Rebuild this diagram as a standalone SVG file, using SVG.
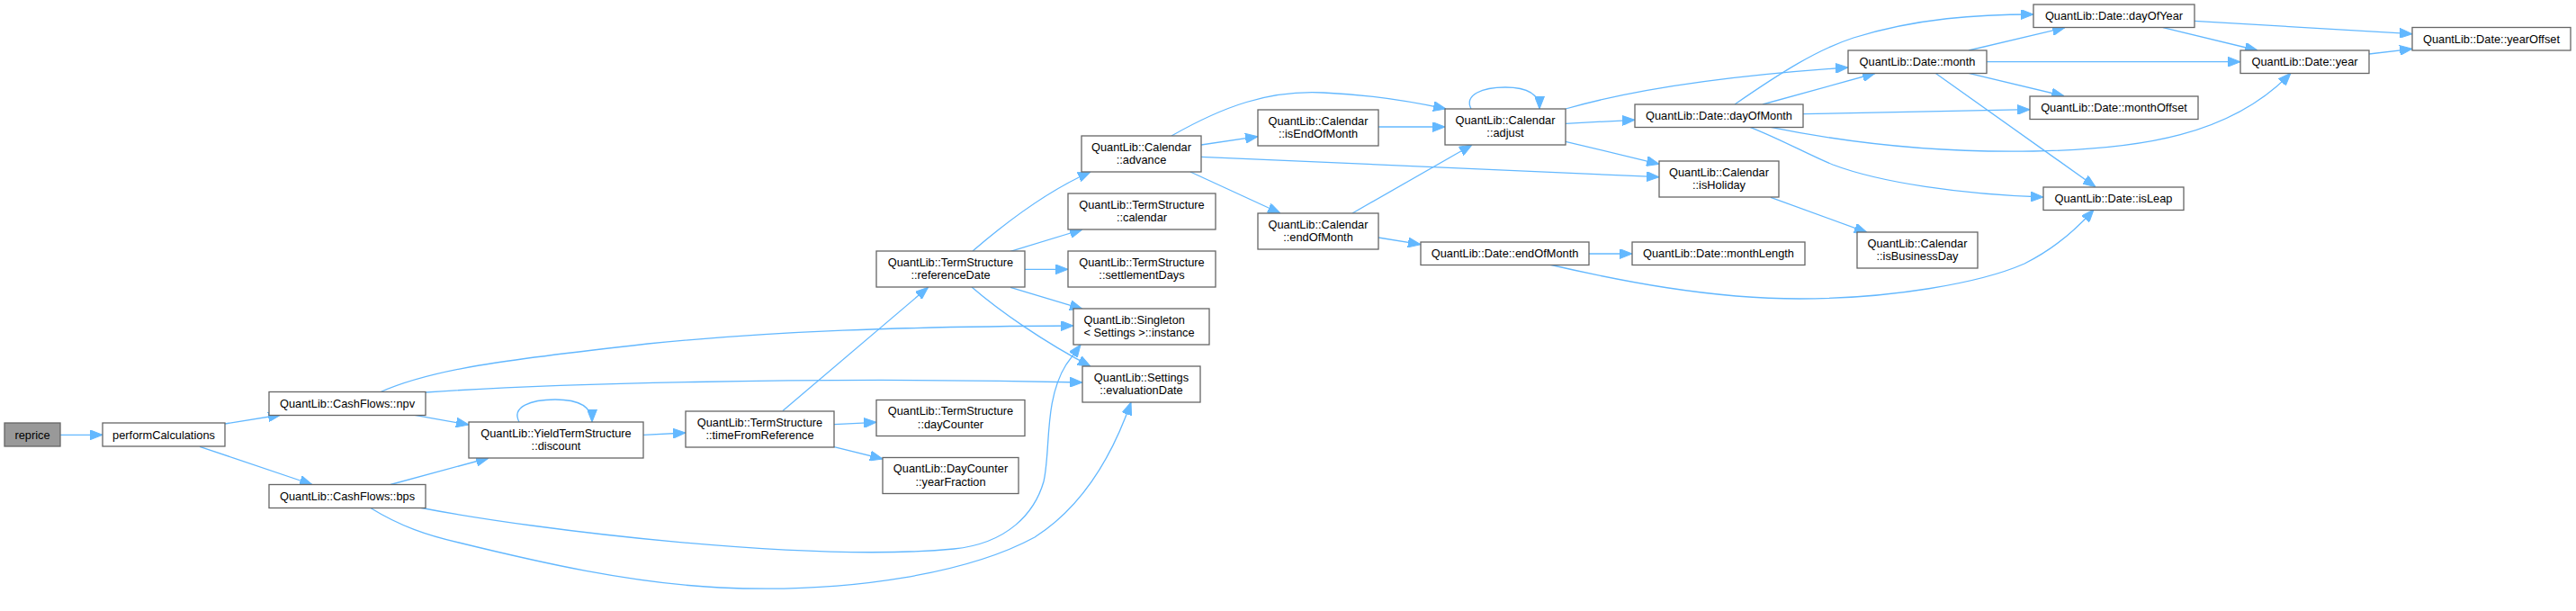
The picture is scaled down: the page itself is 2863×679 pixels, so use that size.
<svg xmlns="http://www.w3.org/2000/svg" width="2863" height="679" viewBox="0 0 2863 679">
<defs>
<style>
.node rect{fill:#ffffff;stroke:#666666;stroke-width:1.3}
.node.root rect{fill:#999999}
.node text{font-family:"Liberation Sans",Arial,Helvetica,sans-serif;font-size:12.8px;fill:#000000;text-anchor:middle}
.node text.l{text-anchor:start}
.edges path{fill:none;stroke:#63b8ff;stroke-width:1.3;marker-end:url(#arr)}
</style>
<marker id="arr" markerUnits="userSpaceOnUse" markerWidth="14" markerHeight="11" viewBox="0 0 14 11" refX="14" refY="5.5" orient="auto">
<path d="M0,0 L14,5.5 L0,11 z" fill="#63b8ff" stroke="#63b8ff" stroke-width="1"/>
</marker>
</defs>
<rect width="2863" height="679" fill="#ffffff"/>
<g class="edges" id="edges">
<path d="M67,483.3 L114,483.3"/>
<path d="M250,471 L312,461"/>
<path d="M222,496.3 L347,538.5"/>
<path d="M461,461.3 L521,472"/>
<path d="M422,436 C480,410 560,400 720,382 C860,368 1000,363 1193,362"/>
<path d="M473,436 C600,427 900,418 1203,425"/>
<path d="M434,538.5 L543,509"/>
<path d="M466,564 C600,590 900,625 1060,610 C1120,604 1150,570 1160,535 C1168,500 1160,445 1185,405 L1201,383"/>
<path d="M411,564 C445,585 475,595 510,603 C600,625 700,648 800,653 C950,660 1080,635 1150,597 C1200,565 1235,510 1257,447"/>
<path d="M577,469 C568,452 590,444 617,444 C643,444 658,452 658,469"/>
<path d="M715,483.3 L762,481"/>
<path d="M870,456.5 L1031.5,319.3"/>
<path d="M927,471.7 L974,469.3"/>
<path d="M927,496.7 L981,510"/>
<path d="M1081,279 C1110,254 1160,214 1212,191"/>
<path d="M1123,279.3 L1203,255"/>
<path d="M1139,299.3 L1187,299.3"/>
<path d="M1123,319.3 L1203,343.3"/>
<path d="M1080,319 C1110,345 1160,380 1212,407"/>
<path d="M1335,161 L1398,151.7"/>
<path d="M1302,151 C1360,118 1410,100 1471,103 C1520,105 1565,112 1607,121"/>
<path d="M1335,174.3 L1844,196.7"/>
<path d="M1323,191 L1423,237"/>
<path d="M1532,141 L1606,141"/>
<path d="M1503,237 L1636,161"/>
<path d="M1532,264 L1579,271.7"/>
<path d="M1635,121 C1627,105 1648,97 1673,97 C1697,97 1711,104 1711,121"/>
<path d="M1740,121 C1820,98 1920,84 2054,75"/>
<path d="M1740,137.3 L1817,133.3"/>
<path d="M1740,157.3 L1844,182.3"/>
<path d="M1766,282 L1814,282"/>
<path d="M1722,294 C1800,312 1900,332 2000,332 C2100,332 2200,315 2250,293 C2280,278 2305,258 2327,233"/>
<path d="M1928,116 C1980,80 2020,55 2060,42 C2130,20 2200,16 2260,16"/>
<path d="M1959,116 L2084,81.5"/>
<path d="M2004,126.7 L2256,121.7"/>
<path d="M1968,141.3 C2050,158 2150,170 2260,168 C2380,166 2480,150 2546,81.3"/>
<path d="M1945,141.3 C1980,155 2010,172 2037,183 C2090,203 2180,216 2271,219"/>
<path d="M1968,219.3 L2075,258.3"/>
<path d="M2188,56 L2295,30.7"/>
<path d="M2208,68.7 L2490,68.7"/>
<path d="M2188,81.3 L2294,106.7"/>
<path d="M2151,81.3 L2329,207.7"/>
<path d="M2404,30.7 L2509,56"/>
<path d="M2439,23.3 L2681,37.7"/>
<path d="M2633,60 L2681,54.3"/>
</g>
<g class="node root" id="reprice"><rect x="5" y="470" width="62" height="26"/><text x="36" y="487.5">reprice</text></g>
<g class="node" id="performCalculations"><rect x="114" y="470" width="136" height="26"/><text x="182" y="487.5">performCalculations</text></g>
<g class="node" id="npv"><rect x="299" y="435.5" width="174" height="26"/><text x="386" y="453">QuantLib::CashFlows::npv</text></g>
<g class="node" id="bps"><rect x="299" y="538.5" width="174" height="26"/><text x="386" y="556">QuantLib::CashFlows::bps</text></g>
<g class="node" id="discount"><rect x="521" y="469" width="194" height="40"/><text x="618" y="485.5">QuantLib::YieldTermStructure</text><text x="618" y="500">::discount</text></g>
<g class="node" id="timeFromReference"><rect x="762" y="457" width="165" height="40"/><text x="844.5" y="473.5">QuantLib::TermStructure</text><text x="844.5" y="488">::timeFromReference</text></g>
<g class="node" id="referenceDate"><rect x="974" y="279" width="165" height="40"/><text x="1056.5" y="295.5">QuantLib::TermStructure</text><text x="1056.5" y="310">::referenceDate</text></g>
<g class="node" id="dayCounter"><rect x="974" y="444.5" width="165" height="40"/><text x="1056.5" y="461">QuantLib::TermStructure</text><text x="1056.5" y="475.5">::dayCounter</text></g>
<g class="node" id="yearFraction"><rect x="981" y="508.5" width="151" height="40"/><text x="1056.5" y="525">QuantLib::DayCounter</text><text x="1056.5" y="539.5">::yearFraction</text></g>
<g class="node" id="tsCalendar"><rect x="1187" y="215" width="164" height="40"/><text x="1269" y="231.5">QuantLib::TermStructure</text><text x="1269" y="246">::calendar</text></g>
<g class="node" id="settlementDays"><rect x="1187" y="279" width="164" height="40"/><text x="1269" y="295.5">QuantLib::TermStructure</text><text x="1269" y="310">::settlementDays</text></g>
<g class="node" id="instance"><rect x="1193" y="343" width="151" height="40"/><text class="l" x="1204.5" y="359.5">QuantLib::Singleton</text><text class="l" x="1204.5" y="374">&lt; Settings &gt;::instance</text></g>
<g class="node" id="evaluationDate"><rect x="1203" y="407" width="131" height="40"/><text x="1268.5" y="423.5">QuantLib::Settings</text><text x="1268.5" y="438">::evaluationDate</text></g>
<g class="node" id="advance"><rect x="1202" y="151" width="133" height="40"/><text x="1268.5" y="167.5">QuantLib::Calendar</text><text x="1268.5" y="182">::advance</text></g>
<g class="node" id="isEndOfMonth"><rect x="1398" y="122" width="134" height="40"/><text x="1465" y="138.5">QuantLib::Calendar</text><text x="1465" y="153">::isEndOfMonth</text></g>
<g class="node" id="calEndOfMonth"><rect x="1398" y="237" width="134" height="40"/><text x="1465" y="253.5">QuantLib::Calendar</text><text x="1465" y="268">::endOfMonth</text></g>
<g class="node" id="adjust"><rect x="1606" y="121" width="134" height="40"/><text x="1673" y="137.5">QuantLib::Calendar</text><text x="1673" y="152">::adjust</text></g>
<g class="node" id="dateEndOfMonth"><rect x="1579" y="269" width="187" height="25.5"/><text x="1672.5" y="286.3">QuantLib::Date::endOfMonth</text></g>
<g class="node" id="dayOfMonth"><rect x="1817" y="116" width="187" height="25.5"/><text x="1910.5" y="133.3">QuantLib::Date::dayOfMonth</text></g>
<g class="node" id="isHoliday"><rect x="1844" y="179" width="133" height="40"/><text x="1910.5" y="195.5">QuantLib::Calendar</text><text x="1910.5" y="210">::isHoliday</text></g>
<g class="node" id="monthLength"><rect x="1814" y="269" width="192" height="25.5"/><text x="1910" y="286.3">QuantLib::Date::monthLength</text></g>
<g class="node" id="isBusinessDay"><rect x="2064" y="258" width="134" height="40"/><text x="2131" y="274.5">QuantLib::Calendar</text><text x="2131" y="289">::isBusinessDay</text></g>
<g class="node" id="month"><rect x="2054" y="56" width="154" height="25.5"/><text x="2131" y="73.3">QuantLib::Date::month</text></g>
<g class="node" id="dayOfYear"><rect x="2260" y="5" width="179" height="25.5"/><text x="2349.5" y="22.3">QuantLib::Date::dayOfYear</text></g>
<g class="node" id="monthOffset"><rect x="2256" y="107" width="187" height="25.5"/><text x="2349.5" y="124.3">QuantLib::Date::monthOffset</text></g>
<g class="node" id="isLeap"><rect x="2271" y="208" width="156" height="25.5"/><text x="2349" y="225.3">QuantLib::Date::isLeap</text></g>
<g class="node" id="year"><rect x="2490" y="56" width="143" height="25.5"/><text x="2561.5" y="73.3">QuantLib::Date::year</text></g>
<g class="node" id="yearOffset"><rect x="2681" y="30.5" width="176" height="25.5"/><text x="2769" y="47.8">QuantLib::Date::yearOffset</text></g>
</svg>
